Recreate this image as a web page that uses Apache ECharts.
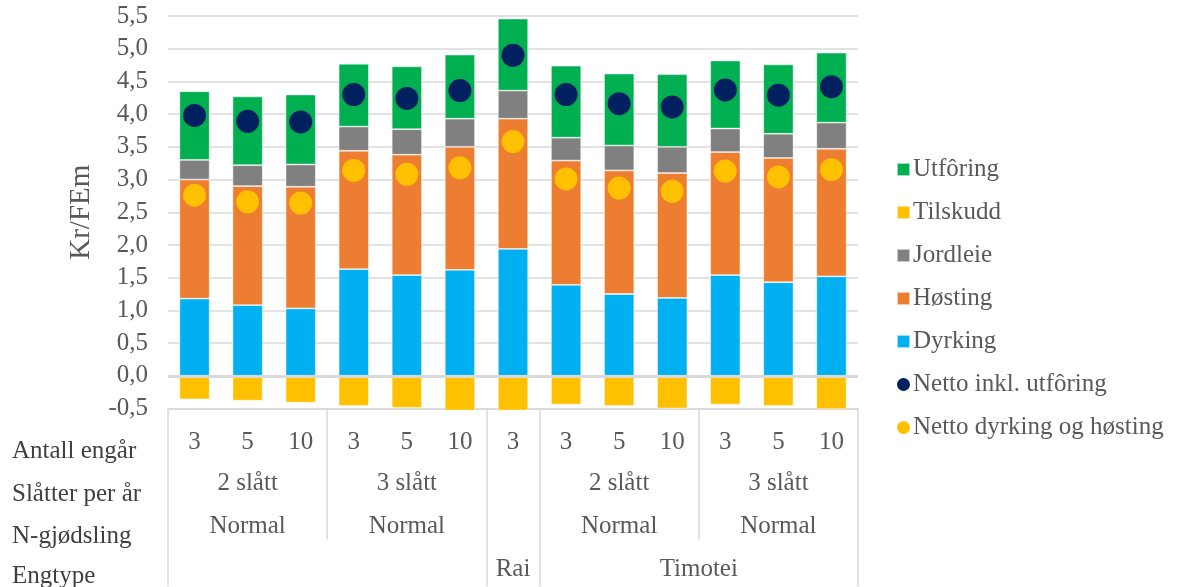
<!DOCTYPE html>
<html>
<head>
<meta charset="utf-8">
<script src="https://cdn.jsdelivr.net/npm/echarts@6/dist/echarts.min.js"></script>
<style>
html,body{margin:0;padding:0;background:#fff;}
#chart{width:1180px;height:587px;}
</style>
</head>
<body>
<div id="chart"></div>
<script>
// ---- Data ----
const antallEngar = ['3','5','10','3','5','10','3','3','5','10','3','5','10'];
const slatterGroups = [[1.5,'2 slått'],[4.5,'3 slått'],[8.5,'2 slått'],[11.5,'3 slått']];
const nGjodslingGroups = [[1.5,'Normal'],[4.5,'Normal'],[8.5,'Normal'],[11.5,'Normal']];
const engtypeGroups = [[6.5,'Rai'],[10,'Timotei']];
const rowTitles = ['Antall engår','Slåtter per år','N-gjødsling','Engtype'];

const dyrking  = [1.18,1.08,1.03,1.63,1.54,1.62,1.94,1.39,1.25,1.19,1.54,1.43,1.52];
const hosting  = [1.82,1.82,1.86,1.81,1.84,1.88,1.99,1.90,1.89,1.91,1.88,1.90,1.95];
const jordleie = [0.30,0.32,0.34,0.37,0.39,0.43,0.43,0.35,0.38,0.40,0.36,0.37,0.40];
const tilskudd = [-0.36,-0.38,-0.41,-0.46,-0.49,-0.53,-0.53,-0.44,-0.46,-0.50,-0.44,-0.46,-0.51];
const utforing = [1.05,1.05,1.07,0.96,0.96,0.98,1.10,1.10,1.10,1.11,1.04,1.06,1.07];
const nettoInkl = [3.98,3.89,3.88,4.30,4.24,4.36,4.90,4.30,4.16,4.11,4.37,4.29,4.42];
const nettoDyrk = [2.76,2.66,2.64,3.14,3.08,3.18,3.58,3.01,2.87,2.82,3.13,3.04,3.15];

const yTicks = {min:-0.5, max:5.5, interval:0.5};
const groupBoundariesFull = [0,6,7,13];
const groupBoundariesInner = [3,10];

// ---- Style ----
const FONT = 'Liberation Serif';
const FS = 25;
const LABEL = '#595959';
const GRID = '#D9D9D9';
const C = {utf:'#00B050', til:'#FFC000', jord:'#808080', hos:'#ED7D31', dyr:'#00B0F0', netInkl:'#002060', netDyr:'#FFC000'};

const chart = echarts.init(document.getElementById('chart'), null, {renderer:'canvas'});

function lookup(groups){
  return function(v){
    for (const g of groups){ if (Math.abs(g[0]-v) < 1e-6) return g[1]; }
    return '';
  };
}
function levelAxis(extra){
  return Object.assign({
    type:'value', min:0, max:13, position:'bottom', gridIndex:0,
    axisLine:{show:false, onZero:false}, splitLine:{show:false},
    axisTick:{show:false}, axisLabel:{show:false}
  }, extra);
}

const barBase = {type:'bar', stack:'total', barWidth:'57%', xAxisIndex:0, yAxisIndex:0, clip:false,
  itemStyle:{borderColor:'rgba(255,255,255,0.6)', borderWidth:0.8}};

const option = {
  animation:false,
  textStyle:{fontFamily:FONT},
  grid:{left:168, right:322, top:16, bottom:178.5, containLabel:false},
  legend:{
    orient:'vertical', left:891, top:152, itemGap:18,
    itemWidth:13, itemHeight:13,
    textStyle:{fontFamily:FONT, fontSize:FS, color:LABEL, padding:[0,0,0,-2], lineHeight:25},
    data:[
      {name:'Utfôring', icon:'rect'},
      {name:'Tilskudd', icon:'rect'},
      {name:'Jordleie', icon:'rect'},
      {name:'Høsting', icon:'rect'},
      {name:'Dyrking', icon:'rect'},
      {name:'Netto inkl. utfôring', icon:'circle'},
      {name:'Netto dyrking og høsting', icon:'circle'}
    ]
  },
  xAxis:[
    {
      type:'category', data:antallEngar, position:'bottom', gridIndex:0,
      axisLine:{onZero:false, lineStyle:{color:GRID, width:1.5}},
      axisTick:{show:false},
      axisLabel:{margin:21, fontSize:FS, color:LABEL, fontFamily:FONT, interval:0},
      splitLine:{show:false}
    },
    levelAxis({axisTick:{show:true, inside:false, customValues:groupBoundariesFull, length:178, lineStyle:{color:GRID, width:1.5}}}),
    levelAxis({axisTick:{show:true, inside:false, customValues:groupBoundariesInner, length:131, lineStyle:{color:GRID, width:1.5}},
      axisLabel:{show:true, customValues:slatterGroups.map(g=>g[0]), formatter:lookup(slatterGroups), margin:62, fontSize:FS, color:LABEL, fontFamily:FONT}}),
    levelAxis({axisLabel:{show:true, customValues:nGjodslingGroups.map(g=>g[0]), formatter:lookup(nGjodslingGroups), margin:105, fontSize:FS, color:LABEL, fontFamily:FONT}}),
    levelAxis({axisLabel:{show:true, customValues:engtypeGroups.map(g=>g[0]), formatter:lookup(engtypeGroups), margin:148, fontSize:FS, color:LABEL, fontFamily:FONT}})
  ],
  yAxis:{
    type:'value', min:yTicks.min, max:yTicks.max, interval:yTicks.interval,
    name:'Kr/FEm', nameLocation:'middle', nameGap:72,
    nameTextStyle:{fontFamily:FONT, fontSize:29, color:LABEL},
    axisLine:{show:false}, axisTick:{show:false},
    axisLabel:{margin:20, fontSize:FS, color:LABEL, fontFamily:FONT,
      formatter:v=>v.toFixed(1).replace('.', ',')},
    splitLine:{lineStyle:{color:GRID, width:1.5}}
  },
  graphic: rowTitles.map((t,i)=>({
    type:'text', left:12, top:[450,493,535,575][i]-11,
    style:{text:t, fontFamily:FONT, fontSize:FS, fill:'#404040'}
  })),
  series:[
    Object.assign({}, barBase, {name:'Dyrking', data:dyrking, itemStyle:Object.assign({}, barBase.itemStyle, {color:C.dyr}),
      markLine:{silent:true, symbol:'none', label:{show:false}, lineStyle:{color:GRID, width:3, type:'solid'}, data:[{yAxis:0}]}}),
    Object.assign({}, barBase, {name:'Høsting', data:hosting, itemStyle:Object.assign({}, barBase.itemStyle, {color:C.hos})}),
    Object.assign({}, barBase, {name:'Jordleie', data:jordleie, itemStyle:Object.assign({}, barBase.itemStyle, {color:C.jord})}),
    Object.assign({}, barBase, {name:'Tilskudd', data:tilskudd, itemStyle:Object.assign({}, barBase.itemStyle, {color:C.til})}),
    Object.assign({}, barBase, {name:'Utfôring', data:utforing, itemStyle:Object.assign({}, barBase.itemStyle, {color:C.utf})}),
    {type:'scatter', name:'Netto inkl. utfôring', data:nettoInkl, symbolSize:23, xAxisIndex:0, yAxisIndex:0, itemStyle:{color:C.netInkl, opacity:1}, z:5},
    {type:'scatter', name:'Netto dyrking og høsting', data:nettoDyrk, symbolSize:23, xAxisIndex:0, yAxisIndex:0, itemStyle:{color:C.netDyr, opacity:1}, z:5}
  ]
};
chart.setOption(option);
</script>
</body>
</html>
